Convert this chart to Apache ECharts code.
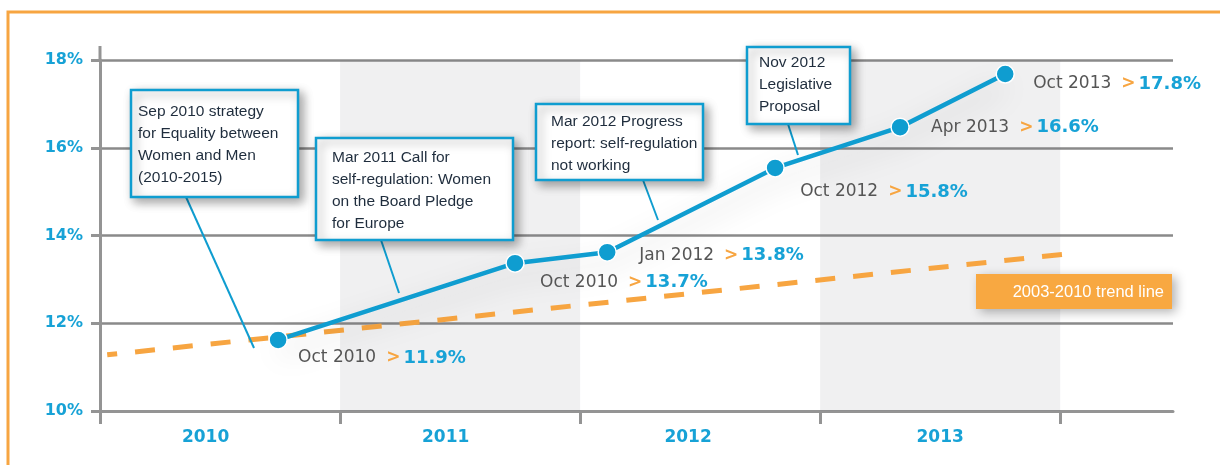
<!DOCTYPE html>
<html>
<head>
<meta charset="utf-8">
<script src="https://cdn.jsdelivr.net/npm/echarts@6/dist/echarts.min.js"></script>
<style>
html,body{margin:0;padding:0;background:#fff;}
#chart{width:1220px;height:465px;}
</style>
</head>
<body>
<div id="chart"></div>
<script>
// ---- data ----
const years = ['2010', '2011', '2012', '2013'];
const yTicks = [10, 12, 14, 16, 18];
const pointTimes = [2010.742, 2011.729, 2012.113, 2012.8125, 2013.333, 2013.771];
const pointValues = [11.62, 13.37, 13.62, 15.54, 16.47, 17.68];
const dateLabels = ['Oct 2010', 'Oct 2010', 'Jan 2012', 'Oct 2012', 'Apr 2013', 'Oct 2013'];
const valueLabels = ['11.9%', '13.7%', '13.8%', '15.8%', '16.6%', '17.8%'];
const trendTimes = [2010.03, 2014.03];
const trendValues = [11.28, 13.58];
const trendName = '2003-2010 trend line';
const notes = [
  'Sep 2010 strategy\nfor Equality between\nWomen and Men\n(2010-2015)',
  'Mar 2011 Call for\nself-regulation: Women\non the Board Pledge\nfor Europe',
  'Mar 2012 Progress\nreport: self-regulation\nnot working',
  'Nov 2012\nLegislative\nProposal'
];

// ---- styles / layout ----
const BLUE = '#0f9dd0';
const LBLUE = '#17a2d6';
const ORANGE = '#f7a541';
const GRAY = '#949494';
const labelOffsets = [[20, 18], [25, 19], [32, 3], [25, 24], [31, 0], [28, 10]];
const labelShift = [0.44, 0.44, 0.45, 0.5];
const noteBoxes = [
  {x: 131, y: 90, w: 167, h: 107, tx: 138, ty: 101, line: [186, 197, 254, 348]},
  {x: 316, y: 138, w: 197, h: 102, tx: 332, ty: 147, line: [381, 240, 399, 293]},
  {x: 536, y: 104, w: 167, h: 76, tx: 551, ty: 111, line: [643, 180, 658, 220]},
  {x: 747, y: 47, w: 103, h: 77, tx: 759, ty: 52, line: [788, 124, 798, 155]}
];

const graphics = [
  {type: 'rect', z: 0, silent: true, shape: {x: 8, y: 12, width: 1240, height: 500},
   style: {fill: 'none', stroke: ORANGE, lineWidth: 3}},
  {type: 'line', z: 50, shape: {x1: 100, y1: 46, x2: 100, y2: 60}, style: {stroke: GRAY, lineWidth: 3}}
];
noteBoxes.forEach((b, i) => {
  graphics.push({type: 'line', z: 100, shape: {x1: b.line[0], y1: b.line[1], x2: b.line[2], y2: b.line[3]},
    style: {stroke: BLUE, lineWidth: 2}});
  graphics.push({type: 'rect', z: 101, shape: {x: b.x, y: b.y, width: b.w, height: b.h},
    style: {fill: '#fff', stroke: BLUE, lineWidth: 2.5, shadowBlur: 10, shadowOffsetX: 4, shadowOffsetY: 4,
      shadowColor: 'rgba(0,0,0,0.35)'}});
  graphics.push({type: 'text', z: 102, x: b.tx, y: b.ty,
    style: {text: notes[i], fill: '#1f2d3d', font: '15.5px "Liberation Sans", Arial, sans-serif',
      lineHeight: 22, verticalAlign: 'top', align: 'left'}});
});
graphics.push({type: 'rect', z: 101, shape: {x: 976, y: 274, width: 196, height: 35},
  style: {fill: '#f8a841', shadowBlur: 10, shadowOffsetX: 4, shadowOffsetY: 3, shadowColor: 'rgba(0,0,0,0.3)'}});
graphics.push({type: 'text', z: 102, x: 1164, y: 292,
  style: {text: trendName, fill: '#fff', font: '16.5px "Liberation Sans", Arial, sans-serif',
    align: 'right', verticalAlign: 'middle'}});

const option = {
  animation: false,
  backgroundColor: '#fff',
  grid: {left: 100, right: 47, top: 60, bottom: 54},
  xAxis: {
    type: 'value', min: 2010, max: 2014.47,
    axisLine: {show: true, lineStyle: {color: GRAY, width: 3}},
    axisTick: {show: true, customValues: [2010, 2011, 2012, 2013, 2014], length: 13,
      lineStyle: {color: GRAY, width: 3}},
    axisLabel: {customValues: years.map((y, i) => +y + labelShift[i]),
      formatter: v => String(Math.floor(v)), color: LBLUE, fontWeight: 'bold', fontSize: 17,
      fontFamily: '"DejaVu Sans", sans-serif', margin: 18},
    splitLine: {show: false}
  },
  yAxis: {
    type: 'value', min: 10, max: 18, interval: 2,
    axisLine: {show: true, lineStyle: {color: GRAY, width: 3}},
    axisTick: {show: true, length: 9, lineStyle: {color: GRAY, width: 3}},
    axisLabel: {formatter: '{value}%', color: LBLUE, fontWeight: 'bold', fontSize: 16,
      fontFamily: '"DejaVu Sans", sans-serif', margin: 17},
    splitLine: {show: true, lineStyle: {color: '#8a8a8a', width: 2.5}}
  },
  graphic: graphics,
  series: [
    {
      type: 'line', z: 1, silent: true,
      data: trendTimes.map((t, i) => [t, trendValues[i]]),
      symbol: 'none',
      lineStyle: {color: ORANGE, width: 5, type: [20, 18], dashOffset: 10},
      markArea: {
        silent: true,
        itemStyle: {color: 'rgba(110,110,120,0.1)'},
        data: [
          [{xAxis: 2011, yAxis: 10}, {xAxis: 2012, yAxis: 18}],
          [{xAxis: 2013, yAxis: 10}, {xAxis: 2014, yAxis: 18}]
        ]
      }
    },
    {
      type: 'line', z: 3,
      data: pointTimes.map((t, i) => ({
        value: [t, pointValues[i]],
        label: {offset: labelOffsets[i]}
      })),
      symbol: 'circle', symbolSize: 18,
      itemStyle: {color: BLUE, borderColor: '#fff', borderWidth: 1.5},
      lineStyle: {color: BLUE, width: 4.5, shadowColor: 'rgba(0,0,0,0.22)', shadowBlur: 30, shadowOffsetY: 12},
      label: {
        show: true, position: 'inside', align: 'left', verticalAlign: 'middle',
        formatter: p => '{d|' + dateLabels[p.dataIndex] + '}{o|>}{v|' + valueLabels[p.dataIndex] + '}',
        rich: {
          d: {color: '#555', fontSize: 17, fontFamily: '"DejaVu Sans", sans-serif'},
          o: {color: ORANGE, fontSize: 17, fontWeight: 'bold', fontFamily: '"DejaVu Sans", sans-serif',
            padding: [0, 3, 0, 10]},
          v: {color: LBLUE, fontSize: 18, fontWeight: 'bold', fontFamily: '"DejaVu Sans", sans-serif'}
        }
      }
    }
  ]
};

const chart = echarts.init(document.getElementById('chart'), null, {renderer: 'canvas'});
chart.setOption(option);
</script>
</body>
</html>
